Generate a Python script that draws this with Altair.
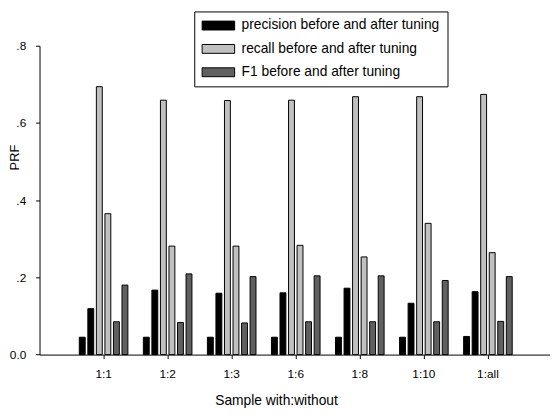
import altair as alt
import pandas as pd

categories = ["1:1", "1:2", "1:3", "1:6", "1:8", "1:10", "1:all"]
precision_before = [0.045, 0.045, 0.045, 0.045, 0.045, 0.045, 0.047]
precision_after = [0.119, 0.167, 0.159, 0.160, 0.172, 0.133, 0.163]
recall_before = [0.694, 0.659, 0.658, 0.659, 0.668, 0.668, 0.674]
recall_after = [0.365, 0.281, 0.281, 0.283, 0.253, 0.340, 0.264]
f1_before = [0.085, 0.083, 0.082, 0.085, 0.085, 0.085, 0.086]
f1_after = [0.180, 0.209, 0.202, 0.204, 0.204, 0.192, 0.202]

metric_names = [
    "precision before and after tuning",
    "recall before and after tuning",
    "F1 before and after tuning",
]
colors = ["#000000", "#c0c0c0", "#606060"]

series = [
    ("p_before", metric_names[0], precision_before),
    ("p_after", metric_names[0], precision_after),
    ("r_before", metric_names[1], recall_before),
    ("r_after", metric_names[1], recall_after),
    ("f_before", metric_names[2], f1_before),
    ("f_after", metric_names[2], f1_after),
]
series_order = [s[0] for s in series]

rows = []
for key, metric, vals in series:
    for c, v in zip(categories, vals):
        rows.append({"sample": c, "series": key, "metric": metric, "value": v})
df = pd.DataFrame(rows)

FONT = "Liberation Sans"

chart = (
    alt.Chart(df)
    .mark_bar(stroke="#000000", strokeWidth=1)
    .encode(
        x=alt.X(
            "sample:N",
            sort=categories,
            scale=alt.Scale(paddingInner=0.2, paddingOuter=0.6, range=[0, 520]),
            axis=alt.Axis(
                title="Sample with:without",
                labelAngle=0,
                labelFontSize=12,
                labelPadding=10,
                tickSize=4,
                titleFontSize=14,
                titleFontWeight="normal",
                titleX=240,
                titleY=51,
                titleBaseline="alphabetic",
            ),
        ),
        xOffset=alt.XOffset(
            "series:N",
            sort=series_order,
            scale=alt.Scale(paddingInner=0.31, paddingOuter=0.155),
        ),
        y=alt.Y(
            "value:Q",
            scale=alt.Scale(domain=[0, 0.8], nice=False, zero=True),
            axis=alt.Axis(
                title="PRF",
                values=[0, 0.2, 0.4, 0.6, 0.8],
                labelExpr="datum.value == 0 ? '0.0' : replace(format(datum.value, '.1f'), '0.', '.')",
                labelFontSize=12,
                labelPadding=10,
                tickSize=4,
                grid=False,
                titleFontSize=13,
                titleFontWeight="normal",
                titleAngle=270,
                titleX=-25,
                titleY=113,
                titleBaseline="middle",
                titleAlign="center",
            ),
        ),
        color=alt.Color(
            "metric:N",
            sort=metric_names,
            scale=alt.Scale(domain=metric_names, range=colors),
            legend=alt.Legend(
                title=None,
                orient="none",
                legendX=157,
                legendY=-34.8,
                direction="vertical",
                symbolType="M-1.4,-1H5.93V1H-1.4Z",
                symbolSize=81,
                symbolStrokeColor="#000000",
                symbolStrokeWidth=1,
                symbolOpacity=1,
                labelFontSize=14,
                labelOffset=26.7,
                rowPadding=9.7,
                padding=7.3,
                strokeColor="#000000",
                fillColor="#ffffff",
                labelLimit=400,
            ),
        ),
    )
    .properties(
        width=518,
        height=313.4,
        autosize=alt.AutoSizeParams(type="none"),
        padding={"left": 32, "top": 35.3, "right": 0, "bottom": 60},
    )
    .configure(font=FONT)
    .configure_view(stroke=None)
    .configure_axis(
        domainColor="#000000",
        tickColor="#000000",
        labelColor="#000000",
        titleColor="#000000",
        labelFont=FONT,
        titleFont=FONT,
    )
    .configure_legend(labelFont=FONT, labelColor="#000000")
)

chart.save("out.html", embed_options={"renderer": "svg", "actions": False})
